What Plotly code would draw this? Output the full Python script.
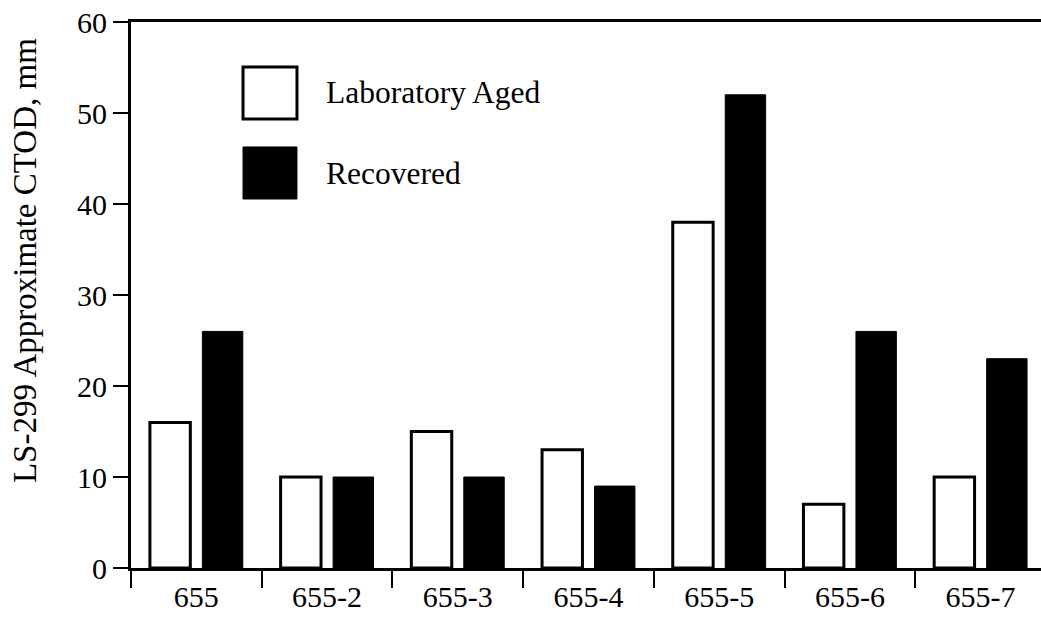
import plotly.graph_objects as go

categories = ["655", "655-2", "655-3", "655-4", "655-5", "655-6", "655-7"]
lab_aged = [16, 10, 15, 13, 38, 7, 10]
recovered = [26, 10, 10, 9, 52, 26, 23]
y_ticks = [0, 10, 20, 30, 40, 50, 60]

FONT = "Liberation Serif"

fig = go.Figure()
fig.add_trace(go.Bar(x=categories, y=lab_aged, name="Laboratory Aged",
                     marker=dict(color="white", line=dict(color="black", width=3))))
fig.add_trace(go.Bar(x=categories, y=recovered, name="Recovered",
                     marker=dict(color="black", line=dict(color="black", width=1))))

fig.update_layout(
    width=1041, height=623,
    margin=dict(l=131, r=0, t=22, b=55),
    paper_bgcolor="white", plot_bgcolor="white",
    barmode="group", bargap=0.197, bargroupgap=0.23,
    showlegend=False,
    font=dict(family=FONT, size=30, color="black"),
)
fig.update_xaxes(
    range=[-0.5, 6.462], showgrid=False, zeroline=False,
    showline=True, linecolor="black", linewidth=3, mirror=True,
    ticks="outside", tickson="boundaries", ticklen=17, tickwidth=1.5, tickcolor="black",
    tickfont=dict(family=FONT, size=30),
)
fig.update_yaxes(
    range=[0, 60], tickvals=y_ticks, showgrid=False, zeroline=False,
    showline=True, linecolor="black", linewidth=3,
    ticks="outside", ticklen=15, tickwidth=1.5, tickcolor="black",
    tickfont=dict(family=FONT, size=30),
)

# y-axis title (placed as annotation to match reference position)
fig.add_annotation(xref="paper", yref="paper", x=-0.1165, y=0.564, text="LS-299 Approximate CTOD, mm",
                   textangle=-90, showarrow=False, xanchor="center", yanchor="middle",
                   font=dict(family=FONT, size=33))

# legend drawn manually
fig.add_shape(type="rect", xref="paper", yref="paper", x0=0.1231, x1=0.1824, y0=0.8223, y1=0.9176,
              line=dict(color="black", width=3), fillcolor="white")
fig.add_shape(type="rect", xref="paper", yref="paper", x0=0.1231, x1=0.1824, y0=0.6758, y1=0.7711,
              line=dict(color="black", width=1), fillcolor="black")
fig.add_annotation(xref="paper", yref="paper", x=0.2121, y=0.870, text="Laboratory Aged",
                   showarrow=False, xanchor="left", yanchor="middle", font=dict(family=FONT, size=31.5))
fig.add_annotation(xref="paper", yref="paper", x=0.2121, y=0.7234, text="Recovered",
                   showarrow=False, xanchor="left", yanchor="middle", font=dict(family=FONT, size=31.5))

fig.write_html("out.html")
